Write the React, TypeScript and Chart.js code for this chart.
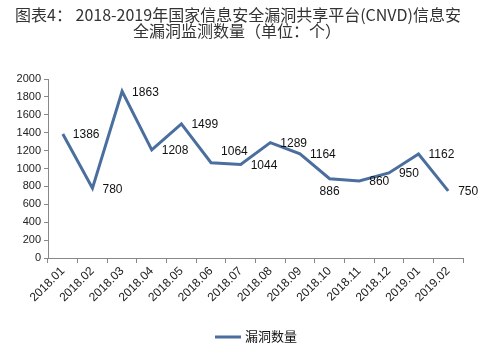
import React, { useEffect, useRef } from "react";
import { Chart, registerables } from "chart.js";

Chart.register(...registerables);

const categories = ["2018.01", "2018.02", "2018.03", "2018.04", "2018.05", "2018.06", "2018.07", "2018.08", "2018.09", "2018.10", "2018.11", "2018.12", "2019.01", "2019.02"];
const vulnCounts = [1386, 780, 1863, 1208, 1499, 1064, 1044, 1289, 1164, 886, 860, 950, 1162, 750];
const seriesName = "漏洞数量";
const titleLines = ["图表4： 2018-2019年国家信息安全漏洞共享平台(CNVD)信息安", "全漏洞监测数量（单位：个）"];

const LINE_COLOR = "#4a6f9f";
const labelPlacement = (i: number) => (i === 9 ? "below" : i === 5 ? "aboveRight" : "right");

const decorPlugin = {
  id: "decor",
  afterDatasetsDraw(chart: any) {
    const ctx = chart.ctx;
    const meta = chart.getDatasetMeta(0);
    ctx.save();
    ctx.fillStyle = "#111";
    ctx.font = "12px 'Liberation Sans', sans-serif";
    meta.data.forEach((pt: any, i: number) => {
      const v = String(vulnCounts[i]);
      const p = labelPlacement(i);
      if (p === "below") {
        ctx.textAlign = "center";
        ctx.textBaseline = "top";
        ctx.fillText(v, pt.x, pt.y + 7);
      } else {
        ctx.textAlign = "left";
        ctx.textBaseline = "middle";
        ctx.fillText(v, pt.x + 10, pt.y + (p === "aboveRight" ? -11 : 1));
      }
    });
    // title
    ctx.fillStyle = "#333";
    ctx.font = "16px 'Noto Sans CJK SC', sans-serif";
    ctx.textAlign = "center";
    ctx.textBaseline = "middle";
    ctx.fillText(titleLines[0], 238, 15);
    ctx.fillText(titleLines[1], 237, 31);
    // legend
    ctx.strokeStyle = LINE_COLOR;
    ctx.lineWidth = 3;
    ctx.beginPath();
    ctx.moveTo(215, 337);
    ctx.lineTo(241, 337);
    ctx.stroke();
    ctx.fillStyle = "#111";
    ctx.font = "13px 'Noto Sans CJK SC', sans-serif";
    ctx.textAlign = "left";
    ctx.fillText(seriesName, 245, 336);
    ctx.restore();
  },
};

export default function App() {
  const ref = useRef<HTMLCanvasElement>(null);
  useEffect(() => {
    document.body.style.margin = "0";
    const chart = new Chart(ref.current!, {
      type: "line",
      data: {
        labels: categories,
        datasets: [
          {
            label: seriesName,
            data: vulnCounts,
            borderColor: LINE_COLOR,
            backgroundColor: LINE_COLOR,
            borderWidth: 3,
            pointRadius: 0,
            tension: 0,
          },
        ],
      },
      options: {
        animation: false,
        responsive: false,
        layout: { padding: { left: 0, right: 32, top: 79, bottom: 0 } },
        plugins: { legend: { display: false }, title: { display: false }, tooltip: { enabled: false } },
        scales: {
          x: {
            offset: true,
            grid: { display: true, offset: true, drawOnChartArea: false, drawTicks: true, tickLength: 5, color: "#888" },
            border: { color: "#888" },
            ticks: {
              minRotation: 45,
              maxRotation: 45,
              autoSkip: false,
              color: "#222",
              padding: 1,
              font: { family: "'Liberation Sans', sans-serif", size: 12 },
            },
            afterFit: (s: any) => {
              s.height = 98;
            },
          },
          y: {
            min: 0,
            max: 2000,
            ticks: {
              stepSize: 200,
              color: "#222",
              padding: 3,
              callback: (v: any) => String(v),
              font: { family: "'Liberation Sans', sans-serif", size: 11 },
            },
            grid: { display: true, drawOnChartArea: false, drawTicks: true, tickLength: 4, color: "#888" },
            border: { color: "#888" },
            afterFit: (s: any) => {
              s.width = 48;
            },
          },
        },
      },
      plugins: [decorPlugin],
    });
    return () => chart.destroy();
  }, []);
  return (
    <div style={{ position: "relative", width: 495, height: 356, background: "#fff" }}>
      <canvas ref={ref} width={495} height={356} style={{ display: "block" }} />
    </div>
  );
}
